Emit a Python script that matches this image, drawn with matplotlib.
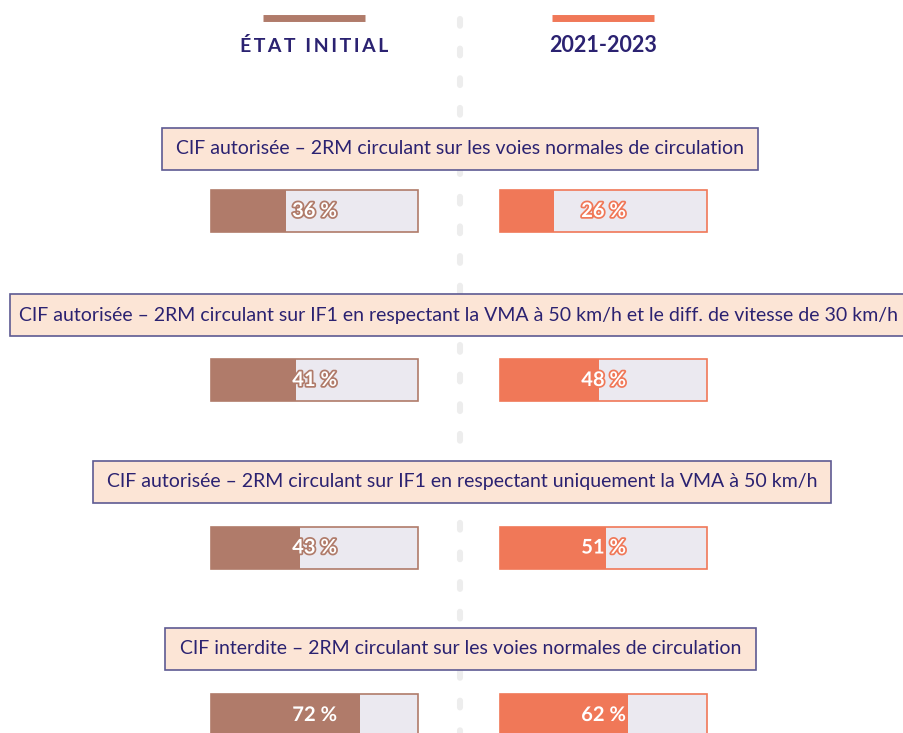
import matplotlib.pyplot as plt
import matplotlib.patheffects as pe
from matplotlib.patches import Rectangle

plt.rcParams['font.family'] = ['Lato', 'DejaVu Sans']

# données
libelles = [
    "CIF autorisée – 2RM circulant sur les voies normales de circulation",
    "CIF autorisée – 2RM circulant sur IF1 en respectant la VMA à 50 km/h et le diff. de vitesse de 30 km/h",
    "CIF autorisée – 2RM circulant sur IF1 en respectant uniquement la VMA à 50 km/h",
    "CIF interdite – 2RM circulant sur les voies normales de circulation",
]
etat_initial = [36, 41, 43, 72]
periode_2021_2023 = [26, 48, 51, 62]
series = ["ÉTAT INITIAL", "2021-2023"]

couleurs = ["#B07B6A", "#F07858"]
fond_barre = "#EBE9F0"
navy = "#2B2271"

fig = plt.figure(figsize=(9.04, 7.33), dpi=100)
ax = fig.add_axes([0, 0, 1, 1])
ax.set_xlim(0, 904)
ax.set_ylim(733, 0)
ax.axis('off')

# ligne pointillée centrale
ax.plot([460, 460], [18.5, 760], color="#EDEDED", lw=4.4,
        dash_capstyle='round', dashes=(1.1, 3.75), zorder=0)

# en-tête
centres = [314.5, 603.5]
tailles = [14, 15.5]
for c, nom, col, t in zip(centres, series, couleurs, tailles):
    ax.plot([c - 51, c + 51], [18, 18], color=col, lw=5, solid_capstyle='butt')
    txt = "\u2009".join(nom) if nom == "ÉTAT INITIAL" else nom
    ax.text(c, 46, txt, ha='center', va='center', fontsize=t,
            fontweight='bold', color=navy)

# boîtes de titre
boites = [(162, 758), (10, 920), (93, 831), (165, 756)]
y_boite = [149, 315, 482, 649]
y_barre = [211, 380, 547.5, 715]
larg = 207
gauches = [211, 500]

for i, lib in enumerate(libelles):
    x0, x1 = boites[i]
    ax.add_patch(Rectangle((x0, y_boite[i] - 21), x1 - x0, 42, facecolor="#FCE5D6",
                           edgecolor="#5E5A92", lw=1.2, zorder=3))
    xc = (x0 + x1) / 2 if x1 <= 904 else 459
    ax.text(xc, y_boite[i], lib, ha='center', va='center',
            fontsize=14, color=navy, zorder=4)

for j, vals in enumerate([etat_initial, periode_2021_2023]):
    g = gauches[j]
    ax.barh(y_barre, [larg] * 4, left=g, height=42, color=fond_barre,
            edgecolor=couleurs[j], lw=1.2, zorder=2)
    ax.barh(y_barre, [v / 100 * larg for v in vals], left=g, height=42,
            color=couleurs[j], lw=0, zorder=2)
    for y, v in zip(y_barre, vals):
        ax.text(g + larg / 2, y, f"{v} %", ha='center', va='center',
                fontsize=14.5, fontweight='bold', color='white', zorder=5,
                path_effects=[pe.withStroke(linewidth=2.5, foreground=couleurs[j])])

fig.savefig("out.png", dpi=100)
